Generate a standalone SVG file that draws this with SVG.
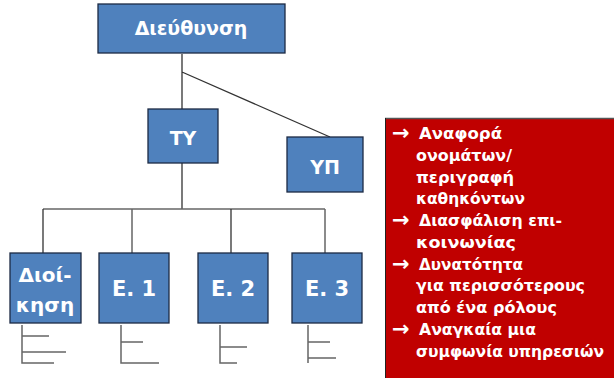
<svg xmlns="http://www.w3.org/2000/svg" width="614" height="378" viewBox="0 0 614 378">
<style>
.box{fill:#4F81BD;stroke:#1c2a44;stroke-width:1.3}
.bt{font-family:"DejaVu Sans",sans-serif;font-weight:bold;fill:#fff;text-anchor:middle}
.ln{stroke:#333;stroke-width:1.3;fill:none}
.lg{stroke:#666;stroke-width:1.5;fill:none}
.rt{font-family:"DejaVu Sans",sans-serif;font-weight:bold;fill:#fff;font-size:16.5px}
.ar{font-family:"DejaVu Sans",sans-serif;font-weight:bold;fill:#fff;font-size:21px}
</style>
<rect x="0" y="0" width="614" height="378" fill="#fff"/>
<g id="connectors">
<path class="ln" d="M182 54V109M182 163V209M182 72L330 137"/>
<path class="lg" d="M43 209H325"/>
<path class="ln" d="M43 209V253M231 209V253"/>
<path class="lg" d="M132 209V253M325 209V253"/>
<path class="lg" d="M22 325V363H54M22 336H49M22 352H66"/>
<path class="lg" d="M121 325V363H159M121 342H143"/>
<path class="lg" d="M220 325V363H237M220 347H247"/>
<path class="lg" d="M308 325V363M308 342H330M308 358H336"/>
</g>
<g id="n-dieuthynsi"><rect class="box" x="98" y="4" width="187" height="49"/><text class="bt" x="191" y="35" font-size="19">Διεύθυνση</text></g>
<g id="n-ty"><rect class="box" x="148" y="109" width="70" height="54"/><text class="bt" x="183" y="145" font-size="19">ΤΥ</text></g>
<g id="n-yp"><rect class="box" x="287" y="137" width="76" height="55"/><text class="bt" x="325" y="174" font-size="19">ΥΠ</text></g>
<g id="n-dioikisi"><rect class="box" x="10" y="253" width="71" height="70"/><text class="bt" x="45" y="282" font-size="20">Διοί-</text><text class="bt" x="45" y="312" font-size="20">κηση</text></g>
<g id="n-e1"><rect class="box" x="99" y="253" width="70" height="70"/><text class="bt" x="134" y="296" font-size="21">Ε. 1</text></g>
<g id="n-e2"><rect class="box" x="198" y="253" width="70" height="70"/><text class="bt" x="233" y="296" font-size="21">Ε. 2</text></g>
<g id="n-e3"><rect class="box" x="292" y="253" width="70" height="70"/><text class="bt" x="327" y="296" font-size="21">Ε. 3</text></g>
<g id="n-notes">
<rect x="385" y="118" width="232" height="265" fill="#C00000"/>
<path d="M385 118.5H614" stroke="#555" stroke-width="1.5"/>
<path d="M385.5 118V378" stroke="#222" stroke-width="1"/>
<text class="ar" x="392" y="140">→</text>
<text class="rt" x="419" y="139" textLength="83" lengthAdjust="spacingAndGlyphs">Αναφορά</text>
<text class="rt" x="416" y="161" textLength="96" lengthAdjust="spacingAndGlyphs">ονομάτων/</text>
<text class="rt" x="416" y="183" textLength="98" lengthAdjust="spacingAndGlyphs">περιγραφή</text>
<text class="rt" x="416" y="204" textLength="109" lengthAdjust="spacingAndGlyphs">καθηκόντων</text>
<text class="ar" x="392" y="227">→</text>
<text class="rt" x="419" y="226" textLength="143" lengthAdjust="spacingAndGlyphs">Διασφάλιση επι-</text>
<text class="rt" x="416" y="248" textLength="100" lengthAdjust="spacingAndGlyphs">κοινωνίας</text>
<text class="ar" x="392" y="271">→</text>
<text class="rt" x="419" y="270" textLength="104" lengthAdjust="spacingAndGlyphs">Δυνατότητα</text>
<text class="rt" x="416" y="291" textLength="169" lengthAdjust="spacingAndGlyphs">για περισσότερους</text>
<text class="rt" x="416" y="313" textLength="141" lengthAdjust="spacingAndGlyphs">από ένα ρόλους</text>
<text class="ar" x="392" y="336" font-weight="normal">→</text>
<text class="rt" x="419" y="335" textLength="117" lengthAdjust="spacingAndGlyphs">Αναγκαία μια</text>
<text class="rt" x="416" y="357" textLength="188" lengthAdjust="spacingAndGlyphs">συμφωνία υπηρεσιών</text>
</g>
</svg>
